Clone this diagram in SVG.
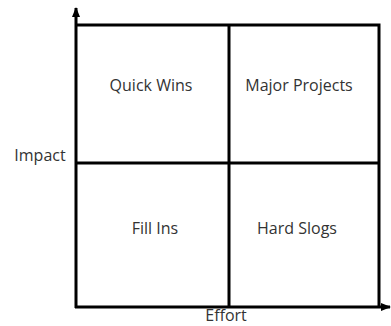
<svg xmlns="http://www.w3.org/2000/svg" width="391" height="326" viewBox="0 0 391 326">
<style>
.ln{stroke:#000;stroke-width:3;fill:none}
.t{font-family:"Open Sans","DejaVu Sans",sans-serif;font-size:16px;fill:#333;text-anchor:middle}
</style>
<defs>
<marker id="ah" markerWidth="10" markerHeight="8" refX="9" refY="4" orient="auto" markerUnits="userSpaceOnUse">
<path d="M0,0 L10,4 L0,8 Z" fill="#000"/>
</marker>
</defs>
<rect width="391" height="326" fill="#fff"/>
<g id="connectors">
<line class="ln" x1="76" y1="308" x2="76" y2="8" marker-end="url(#ah)"/>
<line class="ln" x1="75" y1="307" x2="390" y2="307" marker-end="url(#ah)"/>
<polyline class="ln" points="76,25 379,25 379,307"/>
<line class="ln" x1="229" y1="25" x2="229" y2="307"/>
<line class="ln" x1="76" y1="163" x2="379" y2="163"/>
</g>
<g id="quick-wins"><text class="t" x="151" y="91">Quick Wins</text></g>
<g id="major-projects"><text class="t" x="299" y="91">Major Projects</text></g>
<g id="fill-ins"><text class="t" x="155" y="234">Fill Ins</text></g>
<g id="hard-slogs"><text class="t" x="297" y="234">Hard Slogs</text></g>
<g id="impact"><text class="t" x="40" y="161">Impact</text></g>
<g id="effort"><text class="t" x="226" y="321">Effort</text></g>
</svg>
